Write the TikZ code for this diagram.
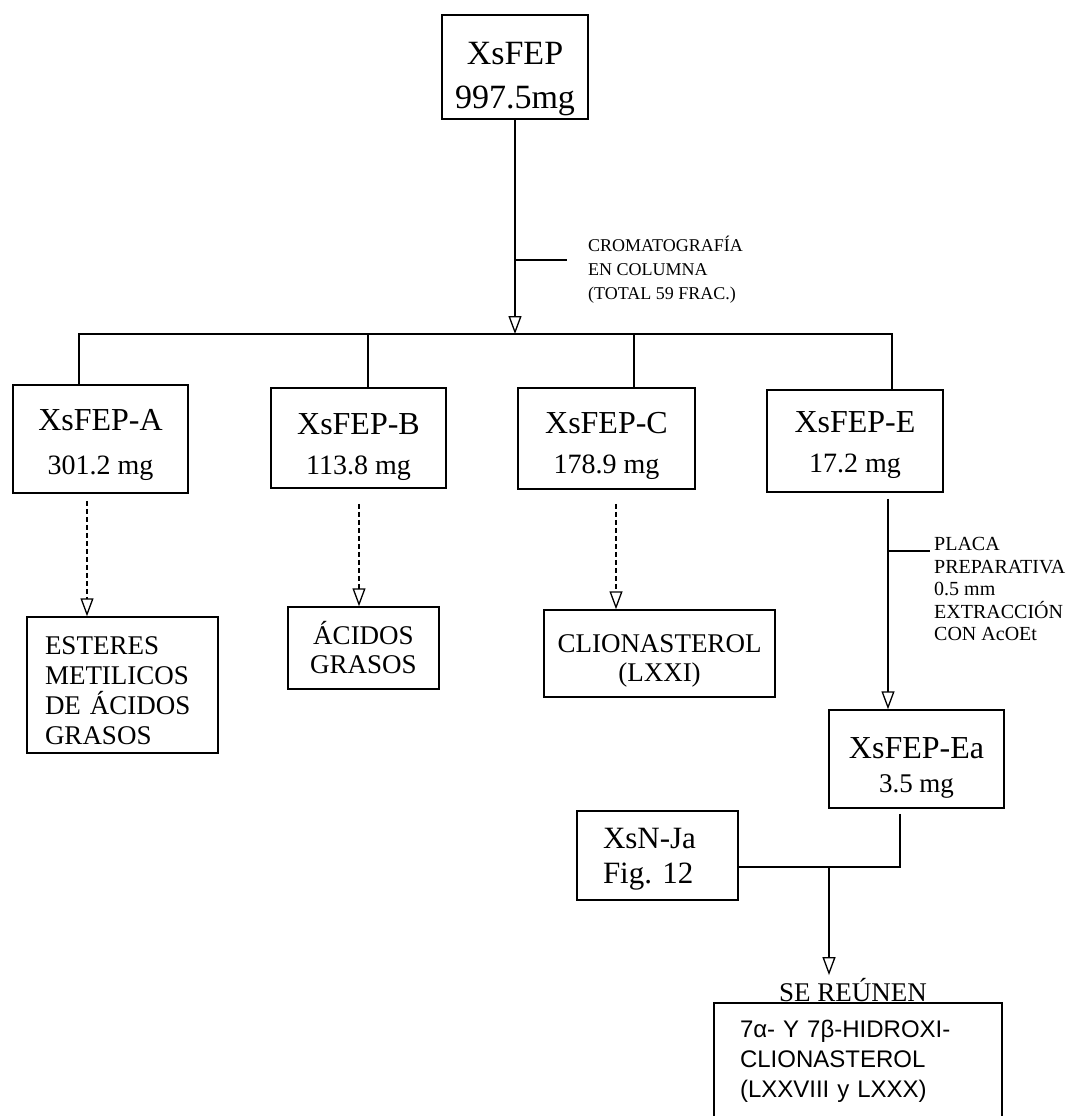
\documentclass[tikz,border=0pt]{standalone}
\usepackage{fontspec}
\setmainfont{Liberation Serif}
\newfontfamily\helv{Liberation Sans}
\usetikzlibrary{arrows.meta}

\newcommand{\fsz}[2]{\fontsize{#1}{#2}\selectfont\frenchspacing}

\begin{document}
\begin{tikzpicture}[x=1pt,y=-1pt,
  box/.style={draw, line width=1.5pt, inner sep=0pt, align=center},
  lbox/.style={draw, line width=1.5pt, inner ysep=0pt, align=left},
  plain/.style={line width=1.5pt, line join=miter},
  flow/.style={plain, -{Triangle[open, length=18pt, width=13pt, line width=1.3pt]}},
  dflow/.style={flow, dash pattern=on 5pt off 3pt},
  note/.style={align=left, inner sep=0pt, anchor=west}]

\useasboundingbox (0,0) rectangle (1081,1116);

% ---- boxes (a larger text height sets the lines lower in the frame) ----
\node[box, minimum width=146pt, minimum height=104pt, font=\fsz{34}{44}, text height=91pt] (top) at (515,67)
  {XsFEP\\997.5mg};

\node[box, minimum width=175pt, minimum height=108pt, font=\fsz{32}{44}, text height=77pt] (fa) at (100.5,439)
  {XsFEP-A\\\fsz{28}{44}301.2 mg};
\node[box, minimum width=175pt, minimum height=100pt, font=\fsz{32}{40}, text height=79pt] (fb) at (358.5,438)
  {XsFEP-B\\\fsz{28}{40}113.8 mg};
\node[box, minimum width=177pt, minimum height=101pt, font=\fsz{32}{40}, text height=76pt] (fc) at (606.5,438.5)
  {XsFEP-C\\\fsz{28}{40}178.9 mg};
\node[box, minimum width=176pt, minimum height=102pt, font=\fsz{32}{40}, text height=69pt] (fe) at (855,441)
  {XsFEP-E\\\fsz{28}{40}17.2 mg};

\node[lbox, minimum height=136pt, inner xsep=18pt, text width=155pt, font={\fsz{27}{30}\spaceskip=6.75pt\relax}, text height=30pt] (ester) at (122.5,685)
  {ESTERES\\METILICOS\\DE ÁCIDOS\\GRASOS};
\node[box, minimum width=151pt, minimum height=82pt, font=\fsz{27}{29}] (acidos) at (363.5,648)
  {ÁCIDOS\\GRASOS};
\node[box, minimum width=231pt, minimum height=87pt, font=\fsz{27}{29}, text height=61pt] (clion) at (659.5,653.5)
  {CLIONASTEROL\\(LXXI)};

\node[box, minimum width=175pt, minimum height=98pt, font=\fsz{32}{34}, text height=73pt] (fea) at (916.5,759)
  {XsFEP-Ea\\\fsz{27}{34}3.5 mg};
\node[lbox, minimum height=89pt, inner xsep=26pt, text width=109pt, font={\fsz{31}{35}\spaceskip=7.75pt\relax}, text height=28pt] (xsn) at (657.5,855.5)
  {XsN-Ja\\Fig. 12};

\node[inner sep=0pt, font=\fsz{27}{29}] (reunen) at (853,990) {SE REÚNEN};
\node[lbox, minimum height=117pt, inner xsep=26pt, text width=236pt, font={\helv\fsz{24}{30}\spaceskip=6.7pt\relax}] (final) at (858,1061.5)
  {7α- Y 7β-HIDROXI-\\CLIONASTEROL\\(LXXVIII y LXXX)};

% ---- column chromatography ----
\coordinate (busL) at (79,334);
\coordinate (busR) at (892,334);
\coordinate (busB) at (368,334);
\coordinate (busC) at (634,334);
\draw[flow] (top.south) -- (top.south |- busL);
\draw[plain] (fa.north -| busL) -- (busL) -- (busR) -- (fe.north -| busR);
\draw[plain] (busB) -- (fb.north -| busB);
\draw[plain] (busC) -- (fc.north -| busC);

\coordinate (tka) at (515,260);
\draw[plain] (tka) -- ++(52,0);
\node[note, font=\fsz{18}{24}] (crom) at (588,270)
  {CROMATOGRAFÍA\\EN COLUMNA\\(TOTAL 59 FRAC.)};

% ---- tentative identifications ----
\coordinate (da) at (87,0);
\coordinate (db) at (359,0);
\coordinate (dc) at (616,0);
\draw[dflow] ([yshift=-7pt]fa.south -| da) -- (ester.north -| da);
\draw[dflow] ([yshift=-15pt]fb.south -| db) -- (acidos.north -| db);
\draw[dflow] ([yshift=-14pt]fc.south -| dc) -- (clion.north -| dc);

% ---- preparative plate ----
\coordinate (de) at (888,0);
\draw[flow] ([yshift=-6pt]fe.south -| de) -- (fea.north -| de);
\coordinate (tkb) at (888,551);
\draw[plain] (tkb) -- ++(42,0);
\node[note, font=\fsz{20}{22.5}] (placa) at (934,589)
  {PLACA\\PREPARATIVA\\0.5 mm\\EXTRACCIÓN\\CON AcOEt};

% ---- pooling ----
\coordinate (dea) at (900,0);
\coordinate (jn) at (829,867);
\draw[plain] ([yshift=-5pt]fea.south -| dea) -- (dea |- jn) -- (xsn.east |- jn);
\draw[flow] (jn) -- ([yshift=3pt]reunen.north -| jn);

\end{tikzpicture}
\end{document}
